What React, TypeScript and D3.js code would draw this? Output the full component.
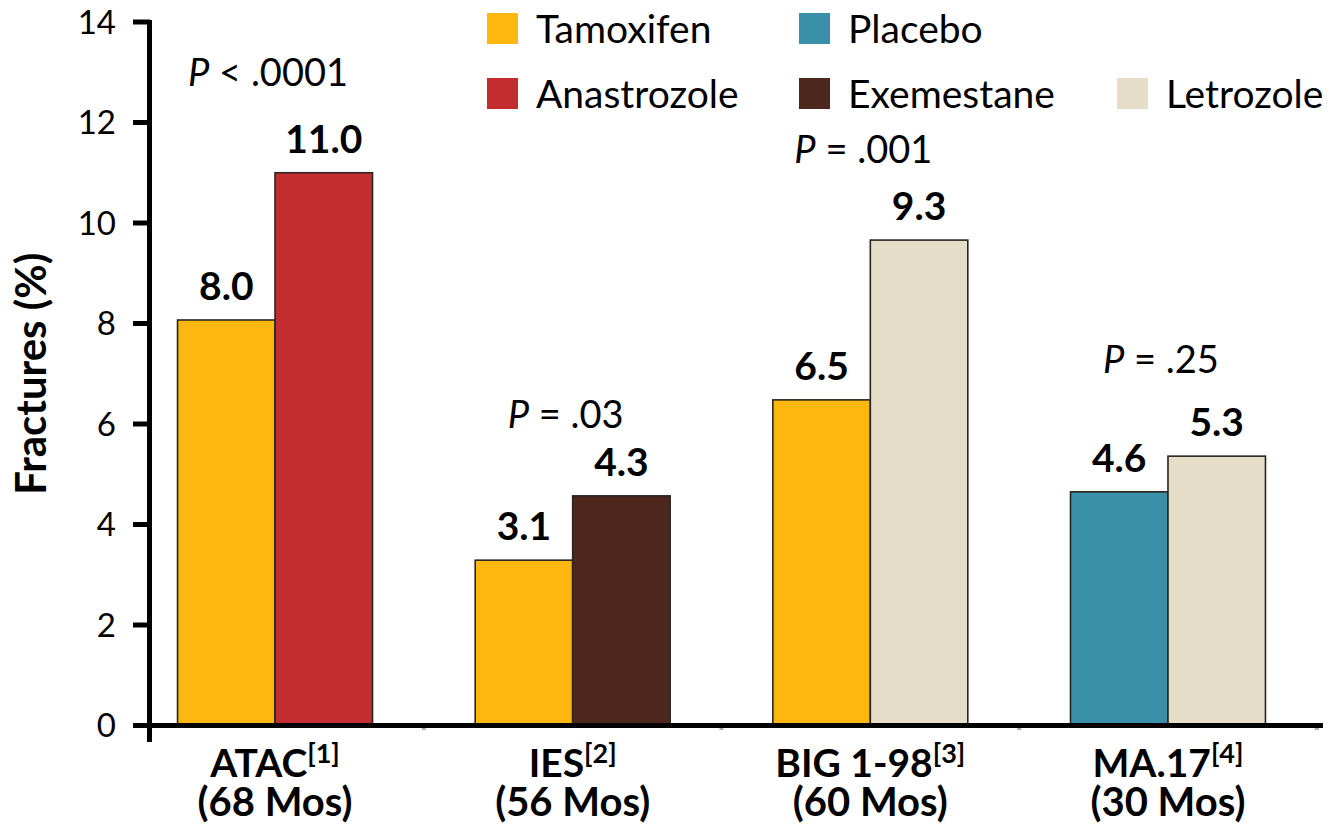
import React from "react";
import * as d3 from "d3";

const groups = ["ATAC", "IES", "BIG 1-98", "MA.17"];
const refs = ["[1]", "[2]", "[3]", "[4]"];
const durations = ["(68 Mos)", "(56 Mos)", "(60 Mos)", "(30 Mos)"];
const leftDrug = ["Tamoxifen", "Tamoxifen", "Tamoxifen", "Placebo"];
const rightDrug = ["Anastrozole", "Exemestane", "Letrozole", "Letrozole"];
const leftValues = [8.07, 3.29, 6.48, 4.65];
const rightValues = [11.0, 4.57, 9.66, 5.36];
const leftLabels = ["8.0", "3.1", "6.5", "4.6"];
const rightLabels = ["11.0", "4.3", "9.3", "5.3"];
const pTexts = ["< .0001", "= .03", "= .001", "= .25"];
const pLevels = [12.73, 5.92, 11.19, 7.01];
const yTicks = [0, 2, 4, 6, 8, 10, 12, 14];
const legendRow1 = ["Tamoxifen", "Placebo"];
const legendRow2 = ["Anastrozole", "Exemestane", "Letrozole"];

const colors: Record<string, string> = {
  Tamoxifen: "#FDB70E",
  Placebo: "#3A90A8",
  Anastrozole: "#C32D2F",
  Exemestane: "#4D271E",
  Letrozole: "#E5DDC8",
};

const FONT = "Lato, 'Open Sans', sans-serif";

export default function App() {
  const W = 1337;
  const H = 832;
  const y = d3.scaleLinear().domain([0, 14]).range([725.5, 22]);
  const x = d3
    .scaleBand<string>()
    .domain(groups)
    .range([126.2, 1316.8])
    .paddingInner(0.345)
    .paddingOuter(0.1725);
  const inner = d3.scaleBand<number>().domain([0, 1]).range([0, x.bandwidth()]);
  const legendX = [487, 799, 1117];
  const legendY = [13, 78];
  const sq = 31;
  const step = x.step();

  return (
    <svg
      width={W}
      height={H}
      style={{ position: "absolute", left: 0, top: 0, background: "#fff" }}
      fontFamily={FONT}
    >
      {/* bars */}
      {groups.map((g, i) => {
        const gx = x(g)!;
        const cx = gx + x.bandwidth() / 2;
        const vals = [leftValues[i], rightValues[i]];
        const names = [leftDrug[i], rightDrug[i]];
        const labels = [leftLabels[i], rightLabels[i]];
        return (
          <g key={g}>
            {vals.map((v, j) => (
              <g key={j}>
                <rect
                  x={gx + inner(j)!}
                  y={y(v)}
                  width={inner.bandwidth()}
                  height={y(0) - y(v)}
                  fill={colors[names[j]]}
                  stroke="#2a2520"
                  strokeWidth={1.6}
                />
                <text
                  x={gx + inner(j)! + inner.bandwidth() / 2}
                  y={y(v) - 20}
                  textAnchor="middle"
                  fontWeight={700}
                  fontSize={39}
                  fill="#000"
                >
                  {labels[j]}
                </text>
              </g>
            ))}
            <text
              x={cx - 7}
              y={y(pLevels[i])}
              textAnchor="middle"
              fontSize={38}
              fill="#000"
            >
              <tspan fontStyle="italic">P</tspan>
              <tspan> {pTexts[i]}</tspan>
            </text>
            <text
              x={cx}
              y={777}
              textAnchor="middle"
              fontWeight={700}
              fontSize={39}
              fill="#000"
            >
              <tspan>{g}</tspan>
              <tspan fontSize={27} dy={-14}>{refs[i]}</tspan>
              <tspan x={cx} y={816} fontSize={40}>{durations[i]}</tspan>
            </text>
          </g>
        );
      })}

      {/* small group separator ticks */}
      {groups.map((g, i) => (
        <line
          key={"sep" + i}
          x1={x(g)! + x.bandwidth() + (step - x.bandwidth()) / 2}
          x2={x(g)! + x.bandwidth() + (step - x.bandwidth()) / 2}
          y1={728}
          y2={730}
          stroke="#aaa"
          strokeWidth={4}
        />
      ))}

      {/* axes */}
      <line x1={133} x2={1323} y1={y(0)} y2={y(0)} stroke="#000" strokeWidth={5} />
      <line x1={149.5} x2={149.5} y1={y(14) - 2} y2={742} stroke="#000" strokeWidth={5} />
      {yTicks.map((t) => (
        <g key={t}>
          <line x1={133} x2={150} y1={y(t)} y2={y(t)} stroke="#000" strokeWidth={5} />
          <text
            x={116}
            y={y(t)}
            dy="0.36em"
            textAnchor="end"
            fontSize={33}
            fill="#000"
          >
            {t}
          </text>
        </g>
      ))}
      <text
        transform={`translate(46, ${y(7.0)}) rotate(-90)`}
        textAnchor="middle"
        fontWeight={700}
        fontSize={42}
        fill="#000"
      >
        Fractures (%)
      </text>

      {/* legend */}
      {[legendRow1, legendRow2].map((row, r) =>
        row.map((name, c) => (
          <g key={name + r}>
            <rect x={legendX[c]} y={legendY[r]} width={sq} height={sq} fill={colors[name]} />
            <text
              x={legendX[c] + sq + 18}
              y={legendY[r] + sq - 1}
              fontSize={39}
              fill="#000"
            >
              {name}
            </text>
          </g>
        ))
      )}
    </svg>
  );
}
